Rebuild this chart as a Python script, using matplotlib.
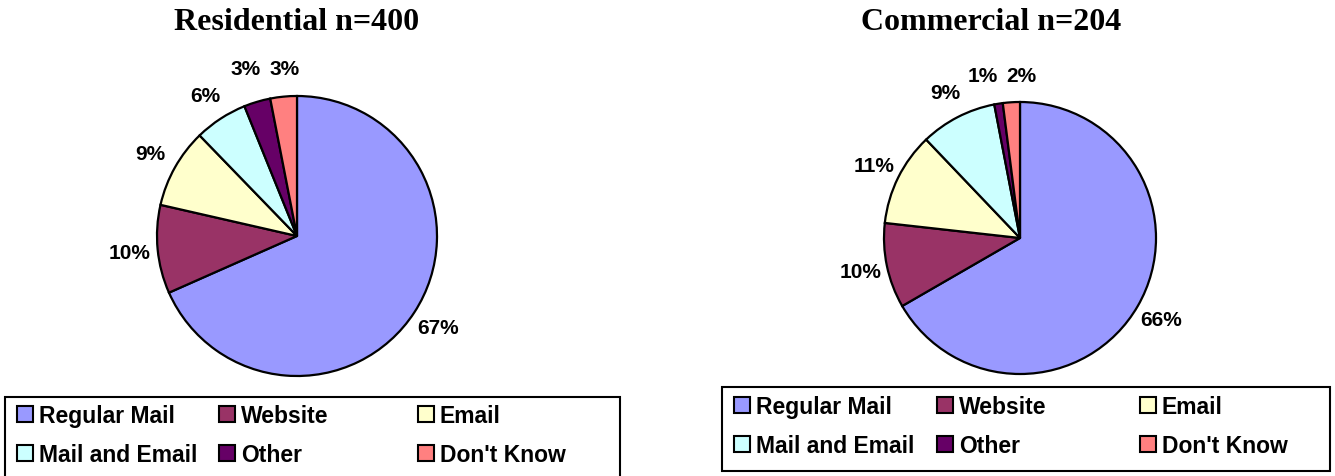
import matplotlib
matplotlib.use('Agg')
import matplotlib.pyplot as plt
from matplotlib import patches

W, H = 1335, 477

categories = ['Regular Mail', 'Website', 'Email', 'Mail and Email', 'Other', "Don't Know"]
colors = ['#9999FF', '#993366', '#FFFFCC', '#CCFFFF', '#660066', '#FF8080']
residential = [67, 10, 9, 6, 3, 3]
commercial = [66, 10, 11, 9, 1, 2]
titles = ['Residential n=400', 'Commercial n=204']

LABEL_FONT = dict(family='Liberation Sans', fontsize=15, fontweight='bold')


def fx(x):
    return x / W


def fy(y):
    # pixel from top -> figure fraction
    return 1 - y / H


def spread_labels(texts, min_gap=0.28):
    # push apart labels of neighbouring tiny slices (Excel does this too)
    for a, b in zip(texts[:-1], texts[1:]):
        xa, ya = a.get_position()
        xb, yb = b.get_position()
        if abs(xb - xa) < min_gap and abs(yb - ya) < 0.2:
            d = (min_gap - abs(xb - xa)) / 2
            s = 1 if xb >= xa else -1
            a.set_x(xa - s * d)
            b.set_x(xb + s * d)
            y = max(ya, yb)
            a.set_y(y)
            b.set_y(y)


def draw_pie(values, title, cx, cy, r, title_x):
    # axes sized so that the unit pie has radius r pixels
    size = 2.5 * r
    ax = fig.add_axes([fx(cx - size / 2), fy(cy + size / 2), size / W, size / H])
    wedges, texts = ax.pie(values, colors=colors, startangle=90, counterclock=False,
                           labels=['%d%%' % v for v in values], labeldistance=1.2,
                           wedgeprops=dict(edgecolor='black', linewidth=1.6),
                           textprops=LABEL_FONT)
    for t in texts:
        t.set_ha('center')
        t.set_va('center')
    spread_labels(texts)
    ax.set_xlim(-1.25, 1.25)
    ax.set_ylim(-1.25, 1.25)
    ax.set_aspect('equal')
    ax.axis('off')
    fig.text(fx(title_x), fy(22), title, ha='center', va='center',
             family='Liberation Serif', fontsize=23, fontweight='bold')
    return wedges


def draw_legend(wedges, box, cols_x, rows_mid):
    # frame like the Excel legend box
    x0, y0, x1, y1 = box
    rect = patches.Rectangle((fx(x0), fy(y1)), (x1 - x0) / W, (y1 - y0) / H,
                             transform=fig.transFigure, fill=False,
                             edgecolor='black', linewidth=1.5, clip_on=False)
    fig.add_artist(rect)
    for j, x in enumerate(cols_x):
        hs = [wedges[j], wedges[j + 3]]
        ls = [categories[j], categories[j + 3]]
        handles = [patches.Patch(facecolor=h.get_facecolor(), edgecolor='black', linewidth=1.5)
                   for h in hs]
        fig.legend(handles, ls, loc='center left', bbox_to_anchor=(fx(x), fy(rows_mid)),
                   frameon=False, borderpad=0, borderaxespad=0,
                   handlelength=0.7, handleheight=0.7, handletextpad=0.25,
                   labelspacing=0.72, prop=dict(family='Liberation Sans', size=16.5,
                                                weight='bold'))


fig = plt.figure(figsize=(W / 100, H / 100), dpi=100)

w1 = draw_pie(residential, titles[0], 297, 237, 140, 297)
w2 = draw_pie(commercial, titles[1], 1020, 239, 136, 991)

draw_legend(w1, (5, 398, 620, 480), [17, 219, 418], 436)
draw_legend(w2, (722, 388, 1330, 472), [734, 937, 1140], 427)

fig.savefig('out.png', dpi=100)
